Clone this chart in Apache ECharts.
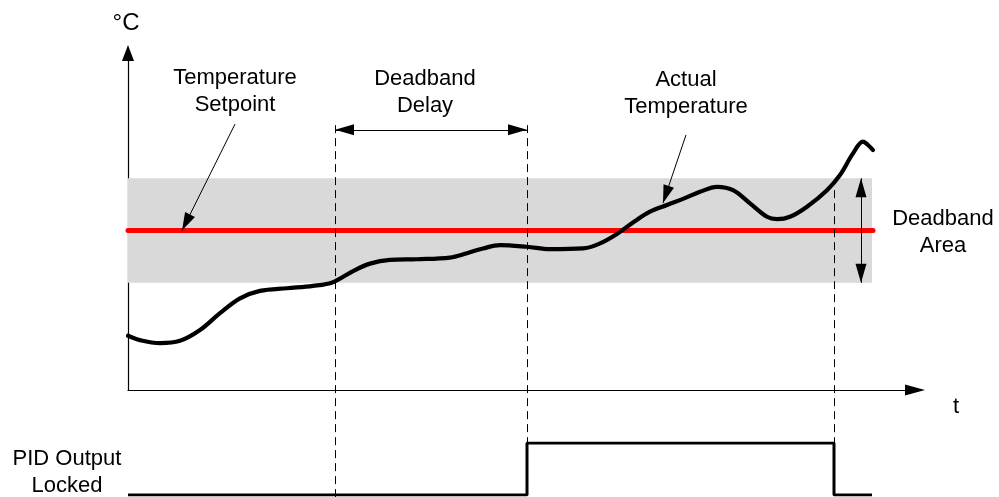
<!DOCTYPE html>
<html>
<head>
<meta charset="utf-8">
<script src="https://cdn.jsdelivr.net/npm/echarts@6/dist/echarts.min.js"></script>
<style>
html,body{margin:0;padding:0;background:#fff;}
#chart{width:999px;height:497px;}
</style>
</head>
<body>
<div id="chart"></div>
<script>
// ---- data ----
const tempTime  = [0, 12, 32, 52, 72, 92, 112, 132, 159, 185, 205, 225, 242, 262, 289, 322, 339, 355, 372, 399, 422, 455, 472, 489, 505, 522, 539, 555, 572, 589, 605, 622, 639, 649, 662, 679, 699, 712, 725, 735, 740, 745];
const tempValue = [16.1, 14.8, 13.9, 14.6, 17.8, 22.8, 27.2, 29.4, 30.2, 30.9, 32.0, 35.3, 37.5, 38.6, 38.8, 39.3, 40.6, 42.0, 43.0, 42.5, 41.8, 42.0, 43.5, 46.3, 49.7, 52.9, 54.9, 56.7, 58.8, 60.3, 59.3, 55.4, 51.4, 50.7, 51.4, 54.4, 59.3, 63.8, 70.2, 73.7, 72.7, 71.2];
const setpoint = 47.3;
const bandLow = 31.8;
const bandHigh = 62.8;
const tStart = 0;
const tEnd = 745;
const eventTimes = [207, 399, 706];          // deadband entry, lock start, lock end
const pidTime  = [0, 399, 399, 706, 706, 744];
const pidState = [0, 0, 1, 1, 0, 0];
const labelLines = {
  yUnit: ['°C'],
  xUnit: ['t'],
  setpoint: ['Temperature', 'Setpoint'],
  delay: ['Deadband', 'Delay'],
  actual: ['Actual', 'Temperature'],
  area: ['Deadband', 'Area'],
  pid: ['PID Output', 'Locked']
};

// ---- build ----
const FONT = '"Liberation Sans", Arial, sans-serif';
const tempData = tempTime.map((t, i) => [t, tempValue[i]]);
const pidData = pidTime.map((t, i) => [t, pidState[i]]);

function textBlock(lines, cx, cy, size) {
  return lines.map((s, i) => ({
    type: 'text',
    silent: true,
    style: {
      text: s, x: cx, y: cy + i * 27,
      font: size + 'px ' + FONT,
      fill: '#000',
      textAlign: 'center',
      textVerticalAlign: 'middle'
    }
  }));
}

const chart = echarts.init(document.getElementById('chart'), null, {renderer: 'canvas'});
const option = {
  animation: false,
  backgroundColor: '#fff',
  grid: [
    {left: 128, top: 53, width: 787, height: 337},
    {left: 128, top: 443, width: 787, height: 52},
    // overlay grid sharing the temperature scale, extended down to the bottom edge
    {left: 128, top: 53, width: 787, height: 444}
  ],
  xAxis: [
    {
      gridIndex: 0, type: 'value', min: 0, max: 787,
      axisLine: {show: true, lineStyle: {color: '#000', width: 1.2}, symbol: ['none', 'triangle'], symbolSize: [11, 20]},
      axisTick: {show: false}, axisLabel: {show: false}, splitLine: {show: false}
    },
    {gridIndex: 1, type: 'value', min: 0, max: 787, show: false},
    {gridIndex: 2, type: 'value', min: 0, max: 787, show: false}
  ],
  yAxis: [
    {
      gridIndex: 0, type: 'value', min: 0, max: 100,
      axisLine: {show: true, lineStyle: {color: '#000', width: 1.2}, symbol: ['none', 'triangle'], symbolSize: [12, 16]},
      axisTick: {show: false}, axisLabel: {show: false}, splitLine: {show: false}
    },
    {gridIndex: 1, type: 'value', min: 0, max: 1, show: false},
    {gridIndex: 2, type: 'value', min: -31.75, max: 100, show: false}
  ],
  series: [
    { // deadband area
      type: 'line', xAxisIndex: 0, yAxisIndex: 0, data: [], z: 1, silent: true,
      markArea: {
        silent: true,
        itemStyle: {color: '#d9d9d9'},
        data: [[{coord: [tStart, bandLow]}, {coord: [744, bandHigh]}]]
      }
    },
    { // dashed event lines
      type: 'line', xAxisIndex: 2, yAxisIndex: 2, data: [], z: 2, silent: true,
      markLine: {
        silent: true, symbol: ['none', 'none'], label: {show: false},
        lineStyle: {color: '#000', width: 1, type: [8, 5]},
        data: [
          [{coord: [eventTimes[0], 78.6]}, {coord: [eventTimes[0], -31.75]}],
          [{coord: [eventTimes[1], 78.6]}, {coord: [eventTimes[1], -15.7]}],
          [{coord: [eventTimes[2], 59.3]}, {coord: [eventTimes[2], -15.7]}]
        ]
      }
    },
    { // setpoint
      type: 'line', xAxisIndex: 0, yAxisIndex: 0, z: 3, silent: true,
      data: [[tStart, setpoint], [tEnd, setpoint]],
      symbol: 'none',
      lineStyle: {color: '#ff0000', width: 5, cap: 'round'}
    },
    { // actual temperature
      type: 'line', xAxisIndex: 0, yAxisIndex: 0, z: 4, silent: true,
      data: tempData, smooth: 0.35, symbol: 'none',
      lineStyle: {color: '#000', width: 4.2, cap: 'round'}
    },
    { // single arrows
      type: 'line', xAxisIndex: 0, yAxisIndex: 0, data: [], z: 5, silent: true,
      markLine: {
        silent: true, symbol: ['none', 'triangle'], symbolSize: [11, 18],
        symbolOffset: [[0, 9], [0, 9]],
        label: {show: false},
        lineStyle: {color: '#000', width: 1, type: 'solid'},
        data: [
          [{coord: [107, 78.9]}, {coord: [54, setpoint]}],
          [{coord: [558, 75.7]}, {coord: [535, 55.5]}]
        ]
      }
    },
    { // double arrows
      type: 'line', xAxisIndex: 0, yAxisIndex: 0, data: [], z: 5, silent: true,
      markLine: {
        silent: true, symbol: ['triangle', 'triangle'], symbolSize: [11, 19],
        symbolOffset: [[0, 9.5], [0, 9.5]],
        label: {show: false},
        lineStyle: {color: '#000', width: 1, type: 'solid'},
        data: [
          [{coord: [eventTimes[0], 77.2]}, {coord: [eventTimes[1], 77.2]}],
          [{coord: [733, bandHigh]}, {coord: [733, bandLow]}]
        ]
      }
    },
    { // PID output locked
      type: 'line', xAxisIndex: 1, yAxisIndex: 1, z: 4, silent: true,
      data: pidData, symbol: 'none',
      lineStyle: {color: '#000', width: 3}
    }
  ],
  graphic: [].concat(
    textBlock(labelLines.yUnit, 126, 23, 24),
    textBlock(labelLines.xUnit, 956, 407, 22),
    textBlock(labelLines.setpoint, 235, 78, 22),
    textBlock(labelLines.delay, 425, 79, 22),
    textBlock(labelLines.actual, 686, 80, 22),
    textBlock(labelLines.area, 943, 219, 22),
    textBlock(labelLines.pid, 67, 459, 22)
  )
};
chart.setOption(option);
</script>
</body>
</html>
